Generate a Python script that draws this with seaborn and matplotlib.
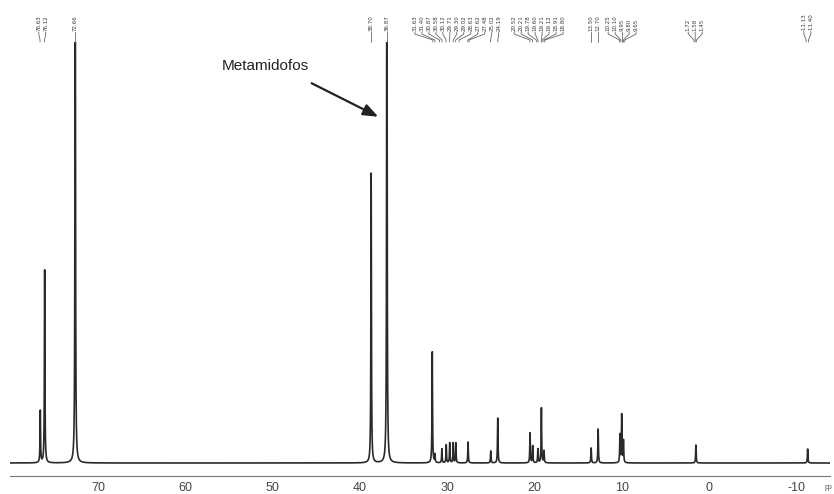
import numpy as np
import pandas as pd
import seaborn as sns
import matplotlib.pyplot as plt
import matplotlib.ticker as mtick
import matplotlib.transforms as mtrans

sns.set_style("white")
plt.rcParams["font.family"] = ["Liberation Sans", "DejaVu Sans"]
plt.rcParams["axes.unicode_minus"] = False

# peak positions (ppm) and heights (arbitrary units)
peak_ppm = [76.6, 76.1, 72.6, 38.7, 36.9, 31.7, 31.4, 30.6, 30.1, 29.7, 29.3,
            29.0, 27.6, 25.0, 24.2, 20.5, 20.2, 19.6, 19.2, 18.9, 13.5, 12.7,
            10.2, 10.0, 9.8, 1.5, -11.3]
peak_height = [52, 193, 600, 290, 600, 111, 8, 14, 18, 20, 20,
               20, 21, 12, 45, 30, 17, 14, 55, 12, 15, 34,
               28, 48, 22, 18, 14]

# peak-pick labels printed on top of the spectrum
label_ppm = [76.63, 76.12, 72.66, 38.70, 36.87,
             31.63, 31.40, 30.87, 30.58, 30.12, 29.71, 29.30, 29.02, 28.63,
             27.62, 27.48, 25.02, 24.19, 20.52, 20.21, 19.78, 19.60, 19.21,
             19.12, 18.91, 18.80,
             13.50, 12.70, 10.25, 10.10, 9.95, 9.80, 9.65,
             1.72, 1.58, 1.45,
             -11.13, -11.40]

xticks_major = [70, 60, 50, 40, 30, 20, 10, 0, -10]

LINE_W = 0.035  # lorentzian half width, ppm


def build_spectrum():
    ppm = np.linspace(80.5, -14.5, 40000)
    inten = np.zeros_like(ppm)
    for p, h in zip(peak_ppm, peak_height):
        inten += h * LINE_W**2 / ((ppm - p) ** 2 + LINE_W**2)
    return pd.DataFrame({"ppm": ppm, "intensity": inten})


def spread_labels(values, gap=0.8):
    # group overlapping labels and space them evenly around their mean
    vals = sorted(values, reverse=True)
    clusters = [[v] for v in vals]
    changed = True
    while changed:
        changed = False
        pos = []
        for c in clusters:
            centre = np.mean(c)
            half = (len(c) - 1) * gap / 2
            pos.append((centre + half, centre - half))
        for i in range(len(clusters) - 1):
            if pos[i][1] - pos[i + 1][0] < gap:
                clusters[i] = clusters[i] + clusters[i + 1]
                del clusters[i + 1]
                changed = True
                break
    out = []
    for c in clusters:
        centre = np.mean(c)
        half = (len(c) - 1) * gap / 2
        out += list(centre + half - gap * np.arange(len(c)))
    return vals, out


fig = plt.figure(figsize=(8.34, 4.94), dpi=100)
ax = fig.add_axes([10 / 834, 18 / 494, 820 / 834, 434 / 494])

df = build_spectrum()
sns.lineplot(data=df, x="ppm", y="intensity", ax=ax, color="#2a2a2a",
             linewidth=1.2, estimator=None, sort=False)

ax.set_xlim(80.07, -13.86)
ax.set_ylim(-13, 421)
ax.set_xlabel("")
ax.set_ylabel("")
ax.set_yticks([])
ax.xaxis.set_major_locator(mtick.FixedLocator(xticks_major))
ax.xaxis.set_minor_locator(mtick.MultipleLocator(2))
ax.tick_params(axis="x", which="major", direction="inout", length=5, width=0.8,
               color="#777777", labelsize=9, labelcolor="#444444", pad=1.5)
ax.tick_params(axis="x", which="minor", direction="inout", length=3, width=0.6,
               color="#888888")
for s in ["left", "top", "right"]:
    ax.spines[s].set_visible(False)
ax.spines["bottom"].set_color("#777777")
ax.spines["bottom"].set_linewidth(0.8)

# peak labels above the plot
trans = mtrans.blended_transform_factory(ax.transData, fig.transFigure)
vals, lab_x = spread_labels(label_ppm)
for v, lx in zip(vals, lab_x):
    ax.text(lx, 1 - 31 / 494, f"{v:.2f}", rotation=90, fontsize=4,
            ha="center", va="bottom", color="#3a3a3a", transform=trans,
            family="DejaVu Sans", clip_on=False)
    ax.plot([lx, lx, v, v], [1 - 32 / 494, 1 - 34 / 494, 1 - 40 / 494, 1 - 42 / 494],
            color="#666666", linewidth=0.6, transform=trans, clip_on=False)

# annotation for the compound
ax.annotate("", xy=(37.6, 345), xytext=(45.8, 381),
            arrowprops=dict(arrowstyle="-|>,head_length=0.9,head_width=0.35",
                            color="#222222", linewidth=1.6))
ax.text(50.8, 397, "Metamidofos", fontsize=11, ha="center", va="center",
        color="#222222")

fig.text(825 / 834, 1 - 487 / 494, "pp", fontsize=5, color="#555555",
         ha="left", va="center")

fig.savefig("out.png", dpi=100)
